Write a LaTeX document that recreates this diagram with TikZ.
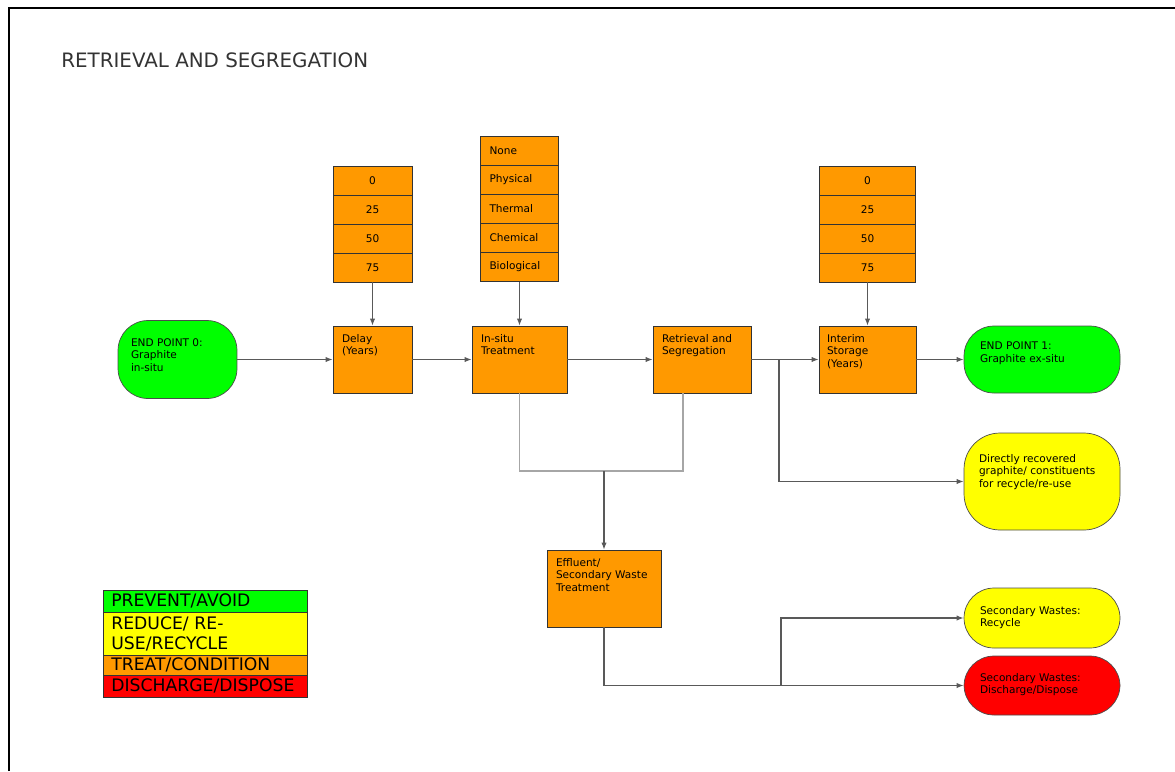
\documentclass[tikz,border=0pt]{standalone}
\usepackage{fontspec}
\setmainfont{DejaVu Sans}
\usetikzlibrary{arrows.meta}
\definecolor{avoidgreen}{HTML}{00FF00}
\definecolor{reuseyellow}{HTML}{FFFF00}
\definecolor{treatorange}{HTML}{FF9900}
\definecolor{disposered}{HTML}{FF0000}

\begin{document}
\begin{tikzpicture}[x=0.02cm, y=-0.02cm,
	every node/.style={font=\fontsize{6}{7.2}\selectfont},
	optbox/.style={draw=black!80, fill=treatorange, inner sep=0pt, minimum height=0.58cm},
	procbox/.style={draw=black!80, fill=treatorange, inner sep=0pt, minimum height=1.34cm},
	endbox/.style={draw=black!70, rounded corners=0.6cm, inner sep=0pt, minimum width=3.12cm},
	lbl/.style={anchor=north west, inner sep=0pt, align=left},
	conn/.style={draw=black!65, line width=0.6pt, -{Latex[length=4pt,width=3pt]}},
	feed/.style={draw=black!35, line width=0.8pt},
	legrow/.style={draw=black!80, anchor=north west, minimum width=4.08cm, text width=3.76cm,
		inner xsep=0.16cm, inner ysep=0pt, align=left, font=\fontsize{9.8}{11.4}\selectfont}]
			\useasboundingbox (0,0) rectangle (1175,771);
			\draw[line width=1.1pt] (9,771) -- (9,8) -- (1175,8);
			\node[anchor=base west, inner sep=0pt, font=\fontsize{11.3}{13}\selectfont, text=black!80] (title) at (61,67) {RETRIEVAL AND SEGREGATION};

			\node[endbox, fill=avoidgreen, minimum width=2.38cm, minimum height=1.56cm,
				label={[lbl, xshift=0.26cm, yshift=-0.36cm]north west:{END POINT 0:\\Graphite\\in-situ}}] (ep0) at (177.5,359.5) {};
			\node[procbox, minimum width=1.58cm,
				label={[lbl, xshift=0.18cm, yshift=-0.16cm]north west:{Delay\\(Years)}}] (delay) at (372.5,359.5) {};
			\node[procbox, minimum width=1.9cm,
				label={[lbl, xshift=0.18cm, yshift=-0.16cm]north west:{In-situ\\Treatment}}] (insitu) at (519.5,359.5) {};
			\node[procbox, minimum width=1.96cm,
				label={[lbl, xshift=0.18cm, yshift=-0.16cm]north west:{Retrieval and\\Segregation}}] (retr) at (702,359.5) {};
			\node[procbox, minimum width=1.94cm,
				label={[lbl, xshift=0.16cm, yshift=-0.16cm]north west:{Interim\\Storage\\(Years)}}] (interim) at (867.5,359.5) {};
			\node[endbox, fill=avoidgreen, minimum height=1.34cm,
				label={[lbl, xshift=0.32cm, yshift=-0.32cm]north west:{END POINT 1:\\Graphite ex-situ}}] (ep1) at (1042,359.5) {};
			\node[endbox, fill=reuseyellow, minimum height=1.94cm, rounded corners=0.72cm,
				label={[lbl, xshift=0.3cm, yshift=-0.42cm]north west:{Directly recovered\\graphite/ constituents\\for recycle/re-use}}] (direct) at (1042,481.5) {};
			\node[procbox, minimum width=2.28cm, minimum height=1.54cm,
				label={[lbl, xshift=0.18cm, yshift=-0.16cm]north west:{Effluent/\\Secondary Waste\\Treatment}}] (effl) at (604,588.5) {};
			\node[endbox, fill=reuseyellow, minimum height=1.2cm,
				label={[lbl, xshift=0.32cm, yshift=-0.36cm]north west:{Secondary Wastes:\\Recycle}}] (recyc) at (1042,618) {};
			\node[endbox, fill=disposered, minimum height=1.18cm,
				label={[lbl, xshift=0.32cm, yshift=-0.34cm]north west:{Secondary Wastes:\\Discharge/Dispose}}] (disch) at (1042,685.5) {};

			\foreach \v [count=\i] in {0,25,50,75}
				\node[optbox, minimum width=1.58cm] (dly\i) at (372.5,{180.5+29*(\i-1)}) {\v};
			\foreach \v [count=\i] in {None,Physical,Thermal,Chemical,Biological}
				\node[optbox, text width=1.2cm, inner xsep=0.18cm, align=left] (trt\i) at (519.5,{151+29*(\i-1)}) {\v};
			\foreach \v [count=\i] in {0,25,50,75}
				\node[optbox, minimum width=1.92cm] (sto\i) at (867.5,{180.5+29*(\i-1)}) {\v};

			\draw[conn] (dly4) -- (delay);
			\draw[conn] (trt5) -- (insitu);
			\draw[conn] (sto4) -- (interim);
			\draw[conn] (ep0) -- (delay);
			\draw[conn] (delay) -- (insitu);
			\draw[conn] (insitu) -- (retr);
			\draw[conn] (retr) -- (interim);
			\draw[conn] (interim) -- (ep1);
			\coordinate (split1) at (779,359.5);
			\draw[conn] (split1) |- (direct.west);
			\coordinate (join) at (604,471);
			\draw[feed] (insitu.south) |- (join);
			\draw[feed] (retr.south) ++(-19,0) |- (join);
			\draw[conn] (join) -- (effl);
			\coordinate (split2) at (781,685.5);
			\draw[conn] (effl.south) |- (disch.west);
			\draw[conn] (split2) |- (recyc.west);

			\node[legrow, fill=avoidgreen, minimum height=0.44cm] (lgavoid) at (103,590) {PREVENT/AVOID};
			\node[legrow, fill=reuseyellow, minimum height=0.86cm] (lgreuse) at (103,612) {REDUCE/ RE-\\USE/RECYCLE};
			\node[legrow, fill=treatorange, minimum height=0.4cm] (lgtreat) at (103,655) {TREAT/CONDITION};
			\node[legrow, fill=disposered, minimum height=0.44cm] (lgdisp) at (103,675) {DISCHARGE/DISPOSE};
		\end{tikzpicture}
\end{document}
